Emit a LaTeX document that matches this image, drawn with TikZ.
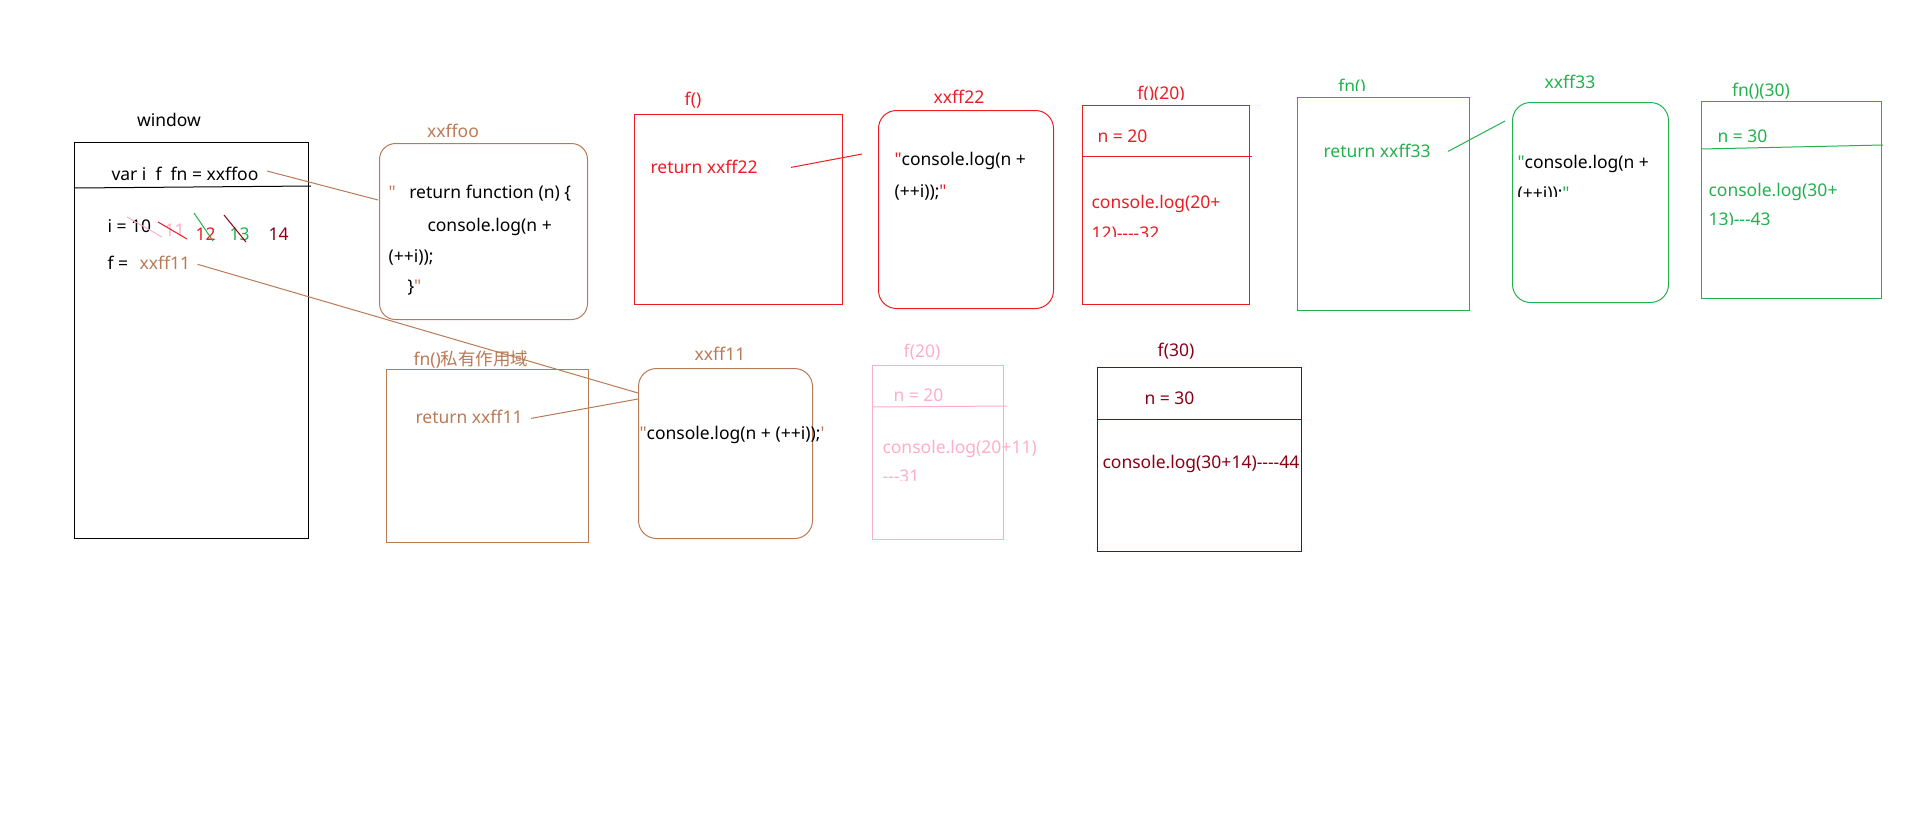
\documentclass[tikz,border=0pt]{standalone}
\usepackage{fontspec}
\setmainfont{Noto Sans}[Ligatures=TeXOff]
\newfontfamily\cjk{Noto Sans CJK SC}
\definecolor{pbrown}{HTML}{B97A57}
\definecolor{pred}{HTML}{ED1C24}
\definecolor{pgreen}{HTML}{22B14C}
\definecolor{ppink}{HTML}{FFAEC9}
\definecolor{pdark}{HTML}{880015}

\begin{document}
\begin{tikzpicture}[x=1pt,y=-1pt,line width=1pt,font=\fontsize{17.5}{20}\selectfont,
	txt/.style={anchor=base west,inner sep=0pt},
	ttl/.style={anchor=base,inner sep=0pt},
	box/.style={draw,anchor=north west,inner sep=0pt},
	rbox/.style={box,rounded corners=18pt}]
			\useasboundingbox (0,0) rectangle (1914,831);

			% window
			\node[ttl] (WinTitle) at (169,126) {window};
			\node[box,minimum width=234pt,minimum height=396pt] (WinBox) at (74,142) {};
			\draw (74,188) -- (311,186);
			\node[txt] (VarLine) at (111,180) {var i\ \ f\ \ fn = xxffoo};
			\node[txt] (IVal) at (107,232) {i = 10};
			\node[txt,ppink] (I11) at (164,236) {11};
			\node[txt,pred] (I12) at (195,240) {12};
			\node[txt,pgreen] (I13) at (229,240) {13};
			\node[txt,pdark] (I14) at (268,240) {14};
			\draw[ppink] (127,217) -- (162,237);
			\draw[pred] (158,222) -- (187,239);
			\draw[pgreen] (194,213) -- (213,241);
			\draw[pdark] (224,215) -- (246,242);
			\node[txt] (FVal) at (107,269) {f =};
			\node[txt,pbrown] (FRef) at (139,269) {xxff11};

			% xxffoo
			\node[ttl,pbrown] (FooTitle) at (453,137) {xxffoo};
			\node[rbox,draw=pbrown,minimum width=208pt,minimum height=176pt,rounded corners=16pt] (FooBox) at (379,143) {};
			\node[txt] (FooA) at (388,198) {\textcolor{pbrown}{"}\ \ \ return function (n) \{};
			\node[txt] (FooB) at (427,231) {console.log(n +};
			\node[txt] (FooC) at (388,262) {(++i));};
			\node[txt] (FooD) at (407,292) {\}\textcolor{pbrown}{"}};

			% f()
			\node[ttl,pred] (FTitle) at (693,105) {f()};
			\node[box,draw=pred,minimum width=208pt,minimum height=190pt] (FBox) at (634,114) {};
			\node[txt,pred] (FRet) at (650,173) {return xxff22};
			\node[ttl,pred] (F22Title) at (959,103) {xxff22};
			\node[rbox,draw=pred,minimum width=175pt,minimum height=198pt] (F22Box) at (878,110) {};
			\node[txt] (F22A) at (894,165) {\textcolor{pred}{"}console.log(n +};
			\node[txt] (F22B) at (894,197) {(++i));\textcolor{pred}{"}};

			% f()(20)
			\begin{scope}
				\clip (1080,70) rectangle (1250,99.5);
				\node[ttl,pred] (F20Title) at (1161,99) {f()(20)};
			\end{scope}
			\node[box,draw=pred,minimum width=167pt,minimum height=199pt] (F20Box) at (1082,105) {};
			\draw[pred] (1082,156) -- (1252,156);
			\node[txt,pred] (F20N) at (1097,142) {n = 20};
			\node[txt,pred] (F20A) at (1091,208) {console.log(20+};
			\begin{scope}
				\clip (1085,210) rectangle (1245,236.7);
				\node[txt,pred] (F20B) at (1091,239) {12)----32};
			\end{scope}

			% fn()
			\begin{scope}
				\clip (1320,60) rectangle (1390,90.7);
				\node[ttl,pgreen] (FnTitle) at (1352,92) {fn()};
			\end{scope}
			\node[box,draw=pgreen,minimum width=172pt,minimum height=213pt] (FnBox) at (1297,97) {};
			\node[txt,pgreen] (FnRet) at (1323,157) {return xxff33};
			\node[ttl,pgreen] (F33Title) at (1570,88) {xxff33};
			\node[rbox,draw=pgreen,minimum width=156pt,minimum height=200pt] (F33Box) at (1512,102) {};
			\node[txt] (F33A) at (1517,168) {\textcolor{pgreen}{"}console.log(n +};
			\begin{scope}
				\clip (1514,172) rectangle (1660,196);
				\node[txt] (F33B) at (1517,199) {(++i));\textcolor{pgreen}{"}};
			\end{scope}

			% fn()(30)
			\node[ttl,pgreen] (F30Title) at (1761,96) {fn()(30)};
			\node[box,draw=pgreen,minimum width=180pt,minimum height=197pt] (F30Box) at (1701,101) {};
			\draw[pgreen] (1701,149) -- (1883,145);
			\node[txt,pgreen] (F30N) at (1717,142) {n = 30};
			\node[txt,pgreen] (F30A) at (1708,196) {console.log(30+};
			\begin{scope}
				\clip (1704,200) rectangle (1878,224);
				\node[txt,pgreen] (F30B) at (1708,225) {13)---43};
			\end{scope}

			% fn() scope
			\node[ttl,pbrown] (PrivTitle) at (471,365) {fn()\cjk 私有作用域};
			\node[box,draw=pbrown,minimum width=202pt,minimum height=173pt] (PrivBox) at (386,369) {};
			\node[txt,pbrown] (PrivRet) at (415,423) {return xxff11};
			\node[ttl,pbrown] (F11Title) at (720,360) {xxff11};
			\node[rbox,draw=pbrown,minimum width=174pt,minimum height=170pt] (F11Box) at (638,368) {};
			\node[txt] (F11A) at (639,439) {\textcolor{pbrown}{"}console.log(n + (++i));\textcolor{pbrown}{'}};

			% f(20)
			\node[ttl,ppink] (P20Title) at (922,357) {f(20)};
			\node[box,draw=ppink,minimum width=131pt,minimum height=174pt] (P20Box) at (872,365) {};
			\draw[ppink] (872,407) -- (1007,406);
			\node[txt,ppink] (P20N) at (893,401) {n = 20};
			\node[txt,ppink] (P20A) at (882,453) {console.log(20+11)};
			\begin{scope}
				\clip (876,458) rectangle (1000,480);
				\node[txt,ppink] (P20B) at (882,482) {---31};
			\end{scope}

			% f(30)
			\node[ttl,pdark] (D30Title) at (1176,356) {f(30)};
			\node[box,draw=pdark,minimum width=204pt,minimum height=184pt] (D30Box) at (1097,367) {};
			\draw[pdark] (1097,419) -- (1302,419);
			\node[txt,pdark] (D30N) at (1144,404) {n = 30};
			\node[txt,pdark] (D30A) at (1102,468) {console.log(30+14)----44};

			% links
			\coordinate (VarOut) at (267,171);
			\coordinate (FooIn) at (378,200);
			\coordinate (F11InA) at (638,393);
			\coordinate (F11InB) at (638,399);
			\coordinate (F22In) at (862,154);
			\coordinate (F33In) at (1505,121);
			\draw[pbrown] (VarOut) -- (FooIn);
			\draw[pbrown] ([xshift=7pt,yshift=-2pt]FRef.east) -- (F11InA);
			\draw[pbrown] ([xshift=8pt,yshift=-2pt]PrivRet.east) -- (F11InB);
			\draw[pred] ([xshift=33pt,yshift=-1pt]FRet.east) -- (F22In);
			\draw[pgreen] ([xshift=17pt,yshift=-1pt]FnRet.east) -- (F33In);
\end{tikzpicture}
\end{document}
